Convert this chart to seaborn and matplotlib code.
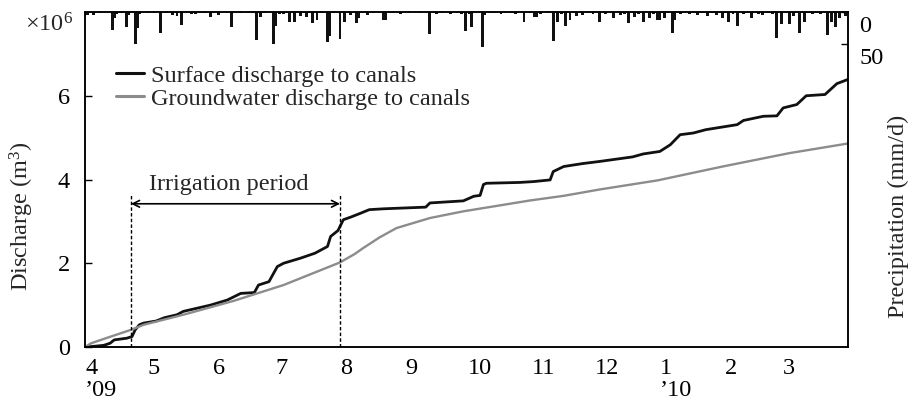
import numpy as np
import pandas as pd
import matplotlib
matplotlib.use("Agg")
import matplotlib.pyplot as plt
import matplotlib.transforms as mtransforms
import seaborn as sns

# Days counted from 1 April 2009
surface_day = [0, 5, 9, 12, 14, 20, 22.5, 24, 26, 28, 34, 38, 44, 47, 60, 68, 74.5, 81, 83, 88,
               92, 95, 103, 110, 116, 117.5, 121, 123.6, 127, 131.6, 136, 142.7, 163, 165, 181,
               186, 189, 190.6, 192, 208, 214.5, 222.5, 224, 229, 238, 246, 262, 267, 275, 280,
               284.7, 291, 297, 312, 315, 324.5, 331, 334, 340.5, 345, 354, 359.7, 365]
surface_q = [0, 0.02, 0.04, 0.09, 0.17, 0.21, 0.25, 0.41, 0.53, 0.57, 0.62, 0.70, 0.77, 0.85,
             1.00, 1.12, 1.28, 1.30, 1.48, 1.56, 1.92, 2.00, 2.12, 2.24, 2.40, 2.64, 2.78, 3.04,
             3.10, 3.19, 3.28, 3.30, 3.34, 3.44, 3.49, 3.60, 3.62, 3.88, 3.91, 3.93, 3.95, 3.99,
             4.19, 4.31, 4.38, 4.43, 4.54, 4.61, 4.67, 4.83, 5.07, 5.11, 5.19, 5.31, 5.41, 5.51,
             5.52, 5.71, 5.79, 6.00, 6.03, 6.29, 6.39]

ground_day = [0, 3, 10, 22, 28, 47, 71, 95, 111, 122, 129, 133, 141, 149, 165, 181, 197, 213,
              229, 246, 274, 305, 337, 365]
ground_q = [0, 0.09, 0.21, 0.41, 0.53, 0.77, 1.10, 1.48, 1.80, 2.02, 2.22, 2.36, 2.62, 2.84,
            3.08, 3.24, 3.37, 3.50, 3.61, 3.76, 3.98, 4.31, 4.63, 4.86]

rain_day = [0, 1, 2, 4, 7, 13, 14, 15, 17, 20, 21, 24, 25, 26, 30, 33, 36, 39, 42, 44, 46, 51,
            53, 55, 57, 60, 64, 70, 75, 78, 82, 84, 86, 90, 91, 93, 95, 96, 98, 100, 103, 105,
            106, 109, 111, 113, 116, 117, 119, 122, 124, 126, 127, 130, 131, 135, 138, 143, 144,
            147, 151, 155, 160, 165, 168, 171, 175, 178, 180, 182, 184, 185, 190, 191, 194, 196,
            199, 201, 204, 206, 210, 212, 215, 216, 218, 221, 224, 226, 228, 230, 232, 235, 238,
            241, 243, 246, 249, 253, 256, 258, 260, 263, 265, 267, 270, 272, 274, 275, 277, 281,
            282, 285, 287, 289, 293, 295, 298, 300, 302, 305, 308, 310, 312, 315, 317, 319, 322,
            324, 327, 329, 331, 333, 337, 339, 342, 344, 346, 348, 350, 352, 355, 357, 359, 361,
            364]
rain_mm = [6, 4, 2, 4, 2, 28, 10, 3, 2, 24, 4, 50, 25, 3, 2, 2, 33, 2, 5, 7, 21, 3,
           3, 2, 2, 8, 4, 24, 2, 2, 44, 8, 2, 50, 22, 3, 3, 2, 16, 15, 7, 2,
           8, 17, 12, 2, 47, 38, 2, 42, 15, 2, 4, 17, 9, 5, 2, 12, 12,
           2, 3, 2, 2, 34, 3, 2, 3, 2, 3, 29, 3, 24, 54, 4, 2, 2,
           3, 2, 2, 3, 15, 2, 8, 8, 3, 2, 46, 15, 3, 22, 12, 7, 4,
           2, 3, 15, 3, 9, 4, 3, 17, 8, 3, 15, 9, 3, 12, 12, 9, 33,
           12, 3, 2, 3, 4, 2, 7, 2, 4, 9, 15, 3, 22, 3, 2, 9, 3,
           4, 2, 3, 41, 19, 18, 7, 33, 15, 2, 3, 2, 3, 36, 15, 24, 9,
           6]

month_day = [0, 30, 61, 91, 122, 153, 183, 214, 244, 275, 306, 334]
month_labels = ["4\n\u201909", "5", "6", "7", "8", "9", "10", "11", "12", "1\n\u201910", "2", "3"]

irrigation = (22, 122)

sns.set_theme(style="white")
plt.rcParams["font.family"] = ["Liberation Serif", "DejaVu Serif"]
plt.rcParams["mathtext.fontset"] = "custom"
plt.rcParams["mathtext.rm"] = "Liberation Serif"
plt.rcParams["mathtext.it"] = "Liberation Serif:italic"
FS = 17.5

fig = plt.figure(figsize=(9.09, 4.0), dpi=100)
ax = fig.add_axes([85 / 909, 53 / 400, 763 / 909, 335 / 400])

df = pd.concat([
    pd.DataFrame({"day": surface_day, "q": surface_q, "series": "Surface discharge to canals"}),
    pd.DataFrame({"day": ground_day, "q": ground_q, "series": "Groundwater discharge to canals"}),
])
sns.lineplot(data=df, x="day", y="q", hue="series", sort=False, estimator=None,
             palette={"Surface discharge to canals": "#111111",
                      "Groundwater discharge to canals": "#8c8c8c"},
             linewidth=2.0, ax=ax)
for ln in ax.get_lines():
    if ln.get_color() == "#8c8c8c":
        ln.set_linewidth(1.7)

ax.set_xlim(0, 365)
ax.set_ylim(0, 8)
ax.set_yticks([0, 2, 4, 6])
ax.set_xticks(month_day)
ax.set_xticklabels(month_labels, ha="left", fontsize=FS, linespacing=1.05)
ax.tick_params(axis="both", direction="in", length=5, width=1, colors="black",
               labelsize=FS)
ax.tick_params(axis="y", pad=11)
ax.tick_params(axis="x", pad=8)
ax.set_xlabel("")
ax.set_ylabel("Discharge (m$^3$)", fontsize=FS)
ax.yaxis.set_label_coords(-0.064, 0.39)
for s in ax.spines.values():
    s.set_color("black")
    s.set_linewidth(1.1)

ax.text(-0.016, 0.962, r"$\times$10$^6$", transform=ax.transAxes, ha="right", va="center",
        fontsize=FS)

# irrigation period marker
top_dash = 3.64
for d in irrigation:
    ax.plot([d, d], [0, top_dash], color="black", lw=1.0, ls=(0, (2.5, 1.6)))
ax.annotate("", xy=(irrigation[0], 3.42), xytext=(irrigation[1], 3.42),
            arrowprops=dict(arrowstyle="<->", color="black", lw=1.2, shrinkA=0, shrinkB=0))
ax.text(69, 3.88, "Irrigation period", ha="center", va="center", fontsize=FS)

leg = ax.legend(loc="upper left", bbox_to_anchor=(0.028, 0.872), frameon=False, fontsize=FS,
                handlelength=1.15, handletextpad=0.3, labelspacing=0.05, borderaxespad=0)
for h in leg.get_lines():
    h.set_linewidth(2.2)

# precipitation hanging from the top
ax2 = ax.twinx()
ax2.bar(rain_day, rain_mm, width=1.4, color="#111111", align="center", linewidth=0)
ax2.set_ylim(523, 0)
ax2.set_yticks([0, 50])
ax2.tick_params(axis="y", direction="in", length=5, width=1, colors="black", labelsize=FS,
                pad=8)
ax2.set_ylabel("Precipitation (mm/d)", fontsize=FS)
ax2.yaxis.set_label_coords(1.052, 0.39)
for s in ax2.spines.values():
    s.set_color("black")
    s.set_linewidth(1.1)
offset = mtransforms.ScaledTranslation(0, -0.12, fig.dpi_scale_trans)
for lab in ax2.get_yticklabels():
    lab.set_transform(lab.get_transform() + offset)

fig.savefig("out.png", dpi=100)
